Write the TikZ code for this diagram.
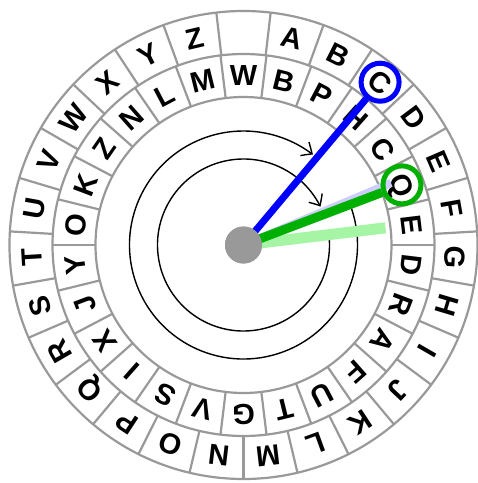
\documentclass[tikz,border=0pt]{standalone}
\usepackage{fontspec}
\setmainfont{Liberation Sans}
\usetikzlibrary{arrows.meta,bending}
\definecolor{ringgray}{gray}{0.6}
\definecolor{wheelblue}{RGB}{0,0,255}
\definecolor{wheelgreen}{RGB}{0,176,0}
\definecolor{palegreen}{RGB}{165,245,165}
\definecolor{paleblue}{RGB}{205,205,255}
\definecolor{hubgray}{gray}{0.6}
\begin{document}
\begin{tikzpicture}[x=1pt,y=1pt,
  ringline/.style={draw=ringgray,line width=2.2pt},
  letter/.style={font=\fontsize{29}{29}\selectfont\bfseries,inner sep=0pt,
    text height=20.8pt,text depth=0pt,anchor=center},
  rotarc/.style={line width=1.4pt,-{Straight Barb[length=9pt,width=16pt,line width=1.4pt,bend]}},
  selring/.style={circle,draw=#1,line width=5pt,minimum size=38pt,inner sep=0pt}]
\useasboundingbox (-243.5,-238) rectangle (234.5,245);
% rings
\draw[ringline] (0,0) circle[radius=234];
\draw[ringline] (0,0) circle[radius=191];
\draw[ringline] (0,0) circle[radius=148];
\foreach \i in {0,...,26}{
  \draw[ringline] ({90-(\i+0.5)*360/27}:191) -- ({90-(\i+0.5)*360/27}:234);
}
\foreach \i in {0,...,25}{
  \draw[ringline] ({90-(\i+0.5)*360/26}:148) -- ({90-(\i+0.5)*360/26}:191);
}
% outer letters
\foreach \l [count=\i] in {A,B,C,D,E,F,G,H,I,J,K,L,M,N,O,P,Q,R,S,T,U,V,W,X,Y,Z}{
  \node[letter,rotate={-\i*360/27}] (out-\l) at ({90-\i*360/27}:212.5) {\l};
}
% inner letters
\foreach \l [count=\i from 0] in {W,B,P,H,C,Q,E,D,R,A,F,U,T,G,V,S,I,X,J,Y,O,K,Z,N,L,M}{
  \node[letter,rotate={-\i*360/26}] (in-\l) at ({90-\i*360/26}:169.5) {\l};
}
% hub
\node[circle,fill=hubgray,minimum size=37pt,inner sep=0pt] (hub) at (0,0) {};
% rotation arcs
\coordinate (arcOutStart) at ({90-69.2}:114);
\coordinate (arcInStart) at ({90-83.1}:86);
\draw[rotarc] (arcOutStart) arc[start angle={90-69.2},end angle={90-37.5-360},radius=114];
\draw[rotarc] (arcInStart) arc[start angle={90-83.1},end angle={90-63.5-360},radius=86];
% pale pointers
\coordinate (paleGreenEnd) at ({90-83.1}:143);
\coordinate (paleBlueEnd) at ({90-67.2}:160);
\draw[palegreen,line width=11pt] (hub.center) -- (paleGreenEnd);
\draw[paleblue,line width=8pt] (hub.center) -- (paleBlueEnd);
% selection rings
\node[selring=wheelblue] (selC) at (out-C.center) {};
\node[selring=wheelgreen] (selQ) at (in-Q.center) {};
% pointers
\draw[wheelgreen,line width=9pt] (hub.center) -- (selQ);
\draw[wheelblue,line width=7pt] (hub.center) -- (selC);
\node[circle,fill=hubgray,minimum size=37pt,inner sep=0pt] (hubtop) at (hub) {};
\end{tikzpicture}
\end{document}
